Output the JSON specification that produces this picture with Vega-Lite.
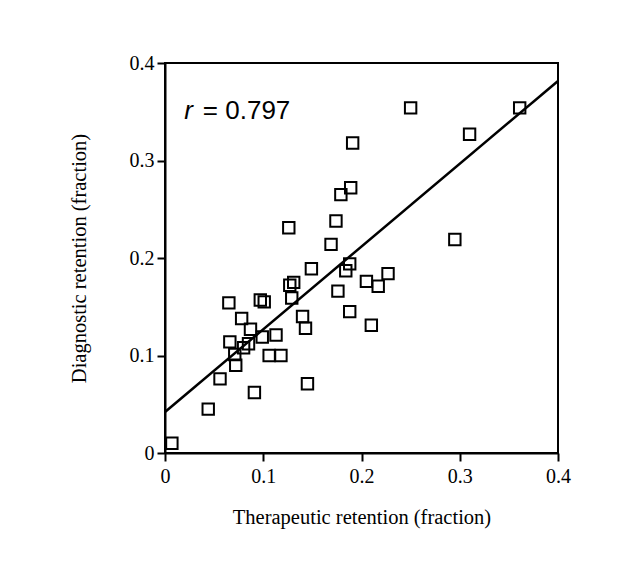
{
  "$schema": "https://vega.github.io/schema/vega-lite/v6.json",
  "width": 393,
  "height": 390,
  "autosize": {"type": "none"},
  "padding": {"left": 165, "top": 63, "right": 82, "bottom": 110},
  "background": "white",
  "config": {
    "view": {"stroke": "black", "strokeWidth": 2},
    "axis": {
      "grid": false,
      "domainColor": "black",
      "domainWidth": 2,
      "tickColor": "black",
      "tickWidth": 2,
      "tickSize": 8,
      "labelFlush": false,
      "labelOverlap": false,
      "format": "~g",
      "labelFont": "Liberation Serif",
      "labelFontSize": 20,
      "labelColor": "black",
      "titleFont": "Liberation Serif",
      "titleFontSize": 20.5,
      "titleFontWeight": "normal",
      "titleColor": "black"
    }
  },
  "datasets": {
    "pts": [
      {"tx": 0.007, "dr": 0.010},
      {"tx": 0.044, "dr": 0.045},
      {"tx": 0.056, "dr": 0.076},
      {"tx": 0.091, "dr": 0.062},
      {"tx": 0.072, "dr": 0.090},
      {"tx": 0.071, "dr": 0.101},
      {"tx": 0.066, "dr": 0.114},
      {"tx": 0.080, "dr": 0.108},
      {"tx": 0.085, "dr": 0.112},
      {"tx": 0.087, "dr": 0.127},
      {"tx": 0.078, "dr": 0.138},
      {"tx": 0.065, "dr": 0.154},
      {"tx": 0.097, "dr": 0.157},
      {"tx": 0.101, "dr": 0.155},
      {"tx": 0.099, "dr": 0.119},
      {"tx": 0.113, "dr": 0.121},
      {"tx": 0.106, "dr": 0.100},
      {"tx": 0.118, "dr": 0.100},
      {"tx": 0.127, "dr": 0.172},
      {"tx": 0.131, "dr": 0.175},
      {"tx": 0.129, "dr": 0.159},
      {"tx": 0.126, "dr": 0.231},
      {"tx": 0.140, "dr": 0.140},
      {"tx": 0.143, "dr": 0.128},
      {"tx": 0.145, "dr": 0.071},
      {"tx": 0.149, "dr": 0.189},
      {"tx": 0.169, "dr": 0.214},
      {"tx": 0.174, "dr": 0.238},
      {"tx": 0.179, "dr": 0.265},
      {"tx": 0.189, "dr": 0.272},
      {"tx": 0.191, "dr": 0.318},
      {"tx": 0.176, "dr": 0.166},
      {"tx": 0.184, "dr": 0.187},
      {"tx": 0.188, "dr": 0.194},
      {"tx": 0.188, "dr": 0.145},
      {"tx": 0.205, "dr": 0.176},
      {"tx": 0.217, "dr": 0.171},
      {"tx": 0.227, "dr": 0.184},
      {"tx": 0.210, "dr": 0.131},
      {"tx": 0.250, "dr": 0.354},
      {"tx": 0.295, "dr": 0.219},
      {"tx": 0.310, "dr": 0.327},
      {"tx": 0.361, "dr": 0.354}
    ],
    "fit": [
      {"tx": 0, "dr": 0.042},
      {"tx": 0.4, "dr": 0.3815}
    ]
  },
  "layer": [
    {
      "data": {"name": "fit"},
      "mark": {"type": "line", "color": "black", "strokeWidth": 2.5},
      "encoding": {
        "x": {"field": "tx", "type": "quantitative", "scale": {"domain": [0, 0.4], "nice": false},
          "axis": {"values": [0, 0.1, 0.2, 0.3, 0.4], "title": "Therapeutic retention (fraction)", "labelPadding": 5, "titlePadding": 21}},
        "y": {"field": "dr", "type": "quantitative", "scale": {"domain": [0, 0.4], "nice": false},
          "axis": {"values": [0, 0.1, 0.2, 0.3, 0.4], "title": "Diagnostic retention (fraction)", "labelPadding": 3, "titlePadding": 40}}
      }
    },
    {
      "data": {"name": "pts"},
      "mark": {"type": "point", "shape": "square", "size": 130, "filled": false, "stroke": "black", "strokeWidth": 2, "opacity": 1},
      "encoding": {
        "x": {"field": "tx", "type": "quantitative"},
        "y": {"field": "dr", "type": "quantitative"}
      }
    },
    {
      "data": {"values": [{}]},
      "mark": {"type": "text", "text": "r", "font": "Liberation Sans", "fontSize": 26, "fontStyle": "italic", "align": "left", "baseline": "middle", "color": "black"},
      "encoding": {
        "x": {"datum": 0.0195, "type": "quantitative"},
        "y": {"datum": 0.351, "type": "quantitative"}
      }
    },
    {
      "data": {"values": [{}]},
      "mark": {"type": "text", "text": "= 0.797", "font": "Liberation Sans", "fontSize": 26, "align": "left", "baseline": "middle", "color": "black"},
      "encoding": {
        "x": {"datum": 0.0385, "type": "quantitative"},
        "y": {"datum": 0.351, "type": "quantitative"}
      }
    }
  ]
}
